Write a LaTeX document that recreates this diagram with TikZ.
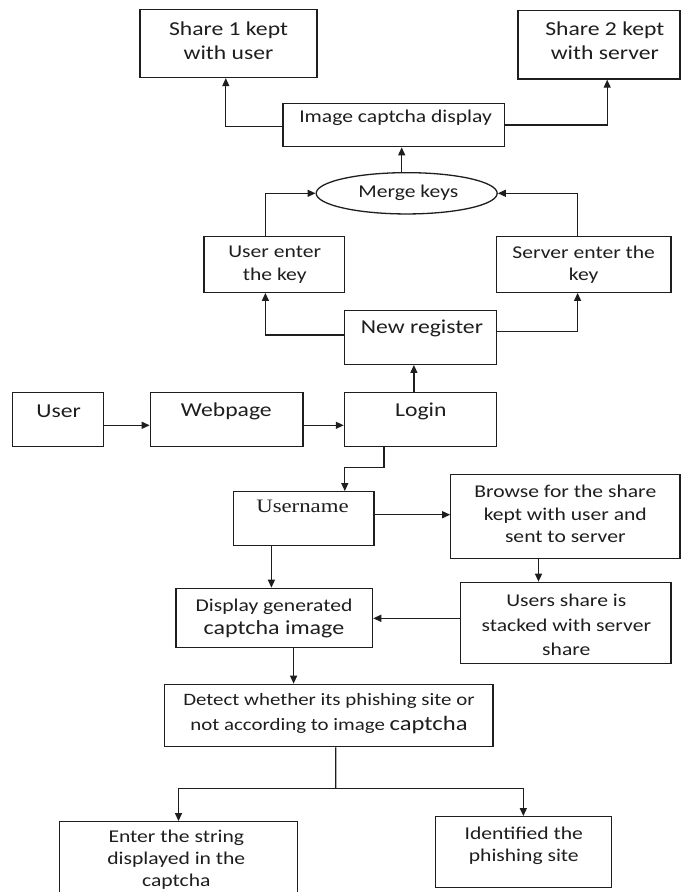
\documentclass[tikz,border=0pt]{standalone}
\usepackage{fontspec}
\setmainfont{Carlito}[FakeStretch=1.2]
\newfontfamily\serifU{Liberation Serif}[FakeStretch=1.2]
\usetikzlibrary{arrows.meta,shapes.geometric,calc}
\definecolor{ink}{HTML}{1E1E1E}
\begin{document}
\begin{tikzpicture}[x=1pt,y=-1pt,
  box/.style 2 args={draw=ink, line width=1.3pt, inner sep=0pt, minimum width=#1, minimum height=#2},
  txt/.style={align=center, text=ink, inner sep=0pt},
  big/.style={font=\fontsize{19.7}{24}\selectfont},
  sml/.style={font=\fontsize{18}{22.5}\selectfont},
  arr/.style={draw=ink, line width=1.3pt, -{Triangle[length=8pt,width=7pt]}},
  ln/.style={draw=ink, line width=1.3pt}]
\useasboundingbox (0,0) rectangle (681,892);
\fill[white] (0,0) rectangle (681,892);
\clip (0,0) rectangle (681,892);

% boxes
\node[box={177pt}{68pt}] (share1) at (228.5,43.5) {};
\node[box={162pt}{68.5pt}] (share2) at (599,44.75) {};
\node[box={221.7pt}{43.4pt}] (imgcap) at (393.85,125) {};
\node[draw=ink, line width=1.3pt, ellipse, minimum width=181pt, minimum height=41.3pt, inner sep=0pt] (merge) at (406.7,193.3) {};
\node[box={140.4pt}{55.6pt}] (userkey) at (274.2,264.5) {};
\node[box={174.6pt}{55.6pt}] (serverkey) at (583.7,264.5) {};
\node[box={152pt}{53.6pt}] (newreg) at (420.4,337.5) {};
\node[box={91.2pt}{54.4pt}] (user) at (57.8,419.5) {};
\node[box={152.8pt}{54.4pt}] (webpage) at (226.7,419.5) {};
\node[box={152pt}{54.4pt}] (login) at (420.4,419.5) {};
\node[box={140.8pt}{54pt}] (username) at (303.6,518.7) {};
\node[box={229.2pt}{84pt}] (browse) at (565.4,516.3) {};
\node[box={210.2pt}{81pt}] (usershare) at (565.9,622.8) {};
\node[box={196.7pt}{59pt}] (display) at (274.25,617.8) {};
\node[box={328.8pt}{62.4pt}] (detect) at (328.6,715.5) {};
\node[box={238pt}{78.3pt}] (enter) at (178.5,860.85) {};
\node[box={176.3pt}{70.6pt}] (ident) at (523.35,852) {};

% texts
\node[txt,big] (t1) at (228.5,41) {Share 1 kept\\with user};
\node[txt,big] (t2) at (604.8,41) {Share 2 kept\\with server};
\node[txt,sml] (t3) at (395.6,118) {Image captcha display};
\node[txt,sml] (t4) at (408.3,193) {Merge keys};
\node[txt,sml] (t5) at (274.7,264.7) {User enter\\the key};
\node[txt,sml] (t6) at (583.7,264.7) {Server enter the\\key};
\node[txt,big] (t7) at (421.9,328.3) {New register};
\node[txt,big] (t8) at (58.6,411) {User};
\node[txt,big] (t9) at (226.3,411) {Webpage};
\node[txt,big] (t10) at (420.8,411) {Login};
\node[txt,font=\serifU\fontsize{19}{22}\selectfont] (t11) at (302.5,506.7) {Username};
\node[txt,sml] (t12) at (565.3,514.3) {Browse for the share\\kept with user and\\sent to server};
\node[txt,font=\fontsize{18}{24.5}\selectfont] (t13) at (566.3,625) {Users share is\\stacked with server\\share};
\node[txt,font=\fontsize{18}{23.3}\selectfont] (t14) at (274,618.3) {Display generated\\{\fontsize{20}{23.3}\selectfont captcha image}};
\node[txt,font=\fontsize{17.4}{25}\selectfont] (t15) at (329,714) {Detect whether its phishing site or\\not according to image {\fontsize{20.5}{25}\selectfont captcha}};
\node[txt,font=\fontsize{18}{21.8}\selectfont] (t16) at (176.3,859.5) {Enter the string\\displayed in the\\captcha};
\node[txt,font=\fontsize{18}{21.7}\selectfont] (t17) at (523.8,846) {Identified the\\phishing site};

% connectors
\draw[arr] ([yshift=-1.7pt]imgcap.west) -| ([xshift=-2.7pt]share1.south);
\draw[arr] (imgcap.east) -| ([xshift=8.2pt]share2.south);
\draw[arr] ([xshift=-5pt]merge.north) -- ([xshift=-5pt]merge.north |- imgcap.south);
\draw[arr] ([xshift=-8.8pt]userkey.north) |- (merge.west);
\draw[arr] ([xshift=-6.1pt]serverkey.north) |- (merge.east);
\draw[arr] ([yshift=2.5pt]newreg.west) -| ([xshift=-8.8pt]userkey.south);
\draw[arr] ([yshift=5.8pt]newreg.east) -| ([xshift=-6.1pt]serverkey.south);
\draw[arr] ([xshift=-6.5pt]login.north) -- ([xshift=-6.5pt]login.north |- newreg.south);
\draw[arr] ([yshift=-5.8pt]user.east) -- ([yshift=-5.8pt]user.east -| webpage.west);
\draw[arr] ([yshift=-5.8pt]webpage.east) -- ([yshift=-5.8pt]webpage.east -| login.west);
\coordinate (lu) at (384,467.7);
\draw[arr] ([xshift=-36.4pt]login.south) -- (lu) -| ([xshift=41.2pt]username.north);
\draw[arr] ([yshift=4pt]username.east) -- ([yshift=4pt]username.east -| browse.west);
\draw[arr] ([xshift=-26.9pt]browse.south) -- ([xshift=-26.9pt]browse.south |- usershare.north);
\draw[arr] ([xshift=-32.2pt]username.south) -- ([xshift=-32.2pt]username.south |- display.north);
\draw[arr] ([yshift=4.5pt]usershare.west) -- ([yshift=4.5pt]usershare.west -| display.east);
\draw[arr] ([xshift=19.35pt]display.south) -- ([xshift=19.35pt]display.south |- detect.north);
\coordinate (br) at (335.7,788.3);
\draw[ln] ([xshift=7.1pt]detect.south) -- (br);
\draw[arr] (br) -| (enter.north);
\draw[arr] (br) -| (ident.north);
\end{tikzpicture}
\end{document}
